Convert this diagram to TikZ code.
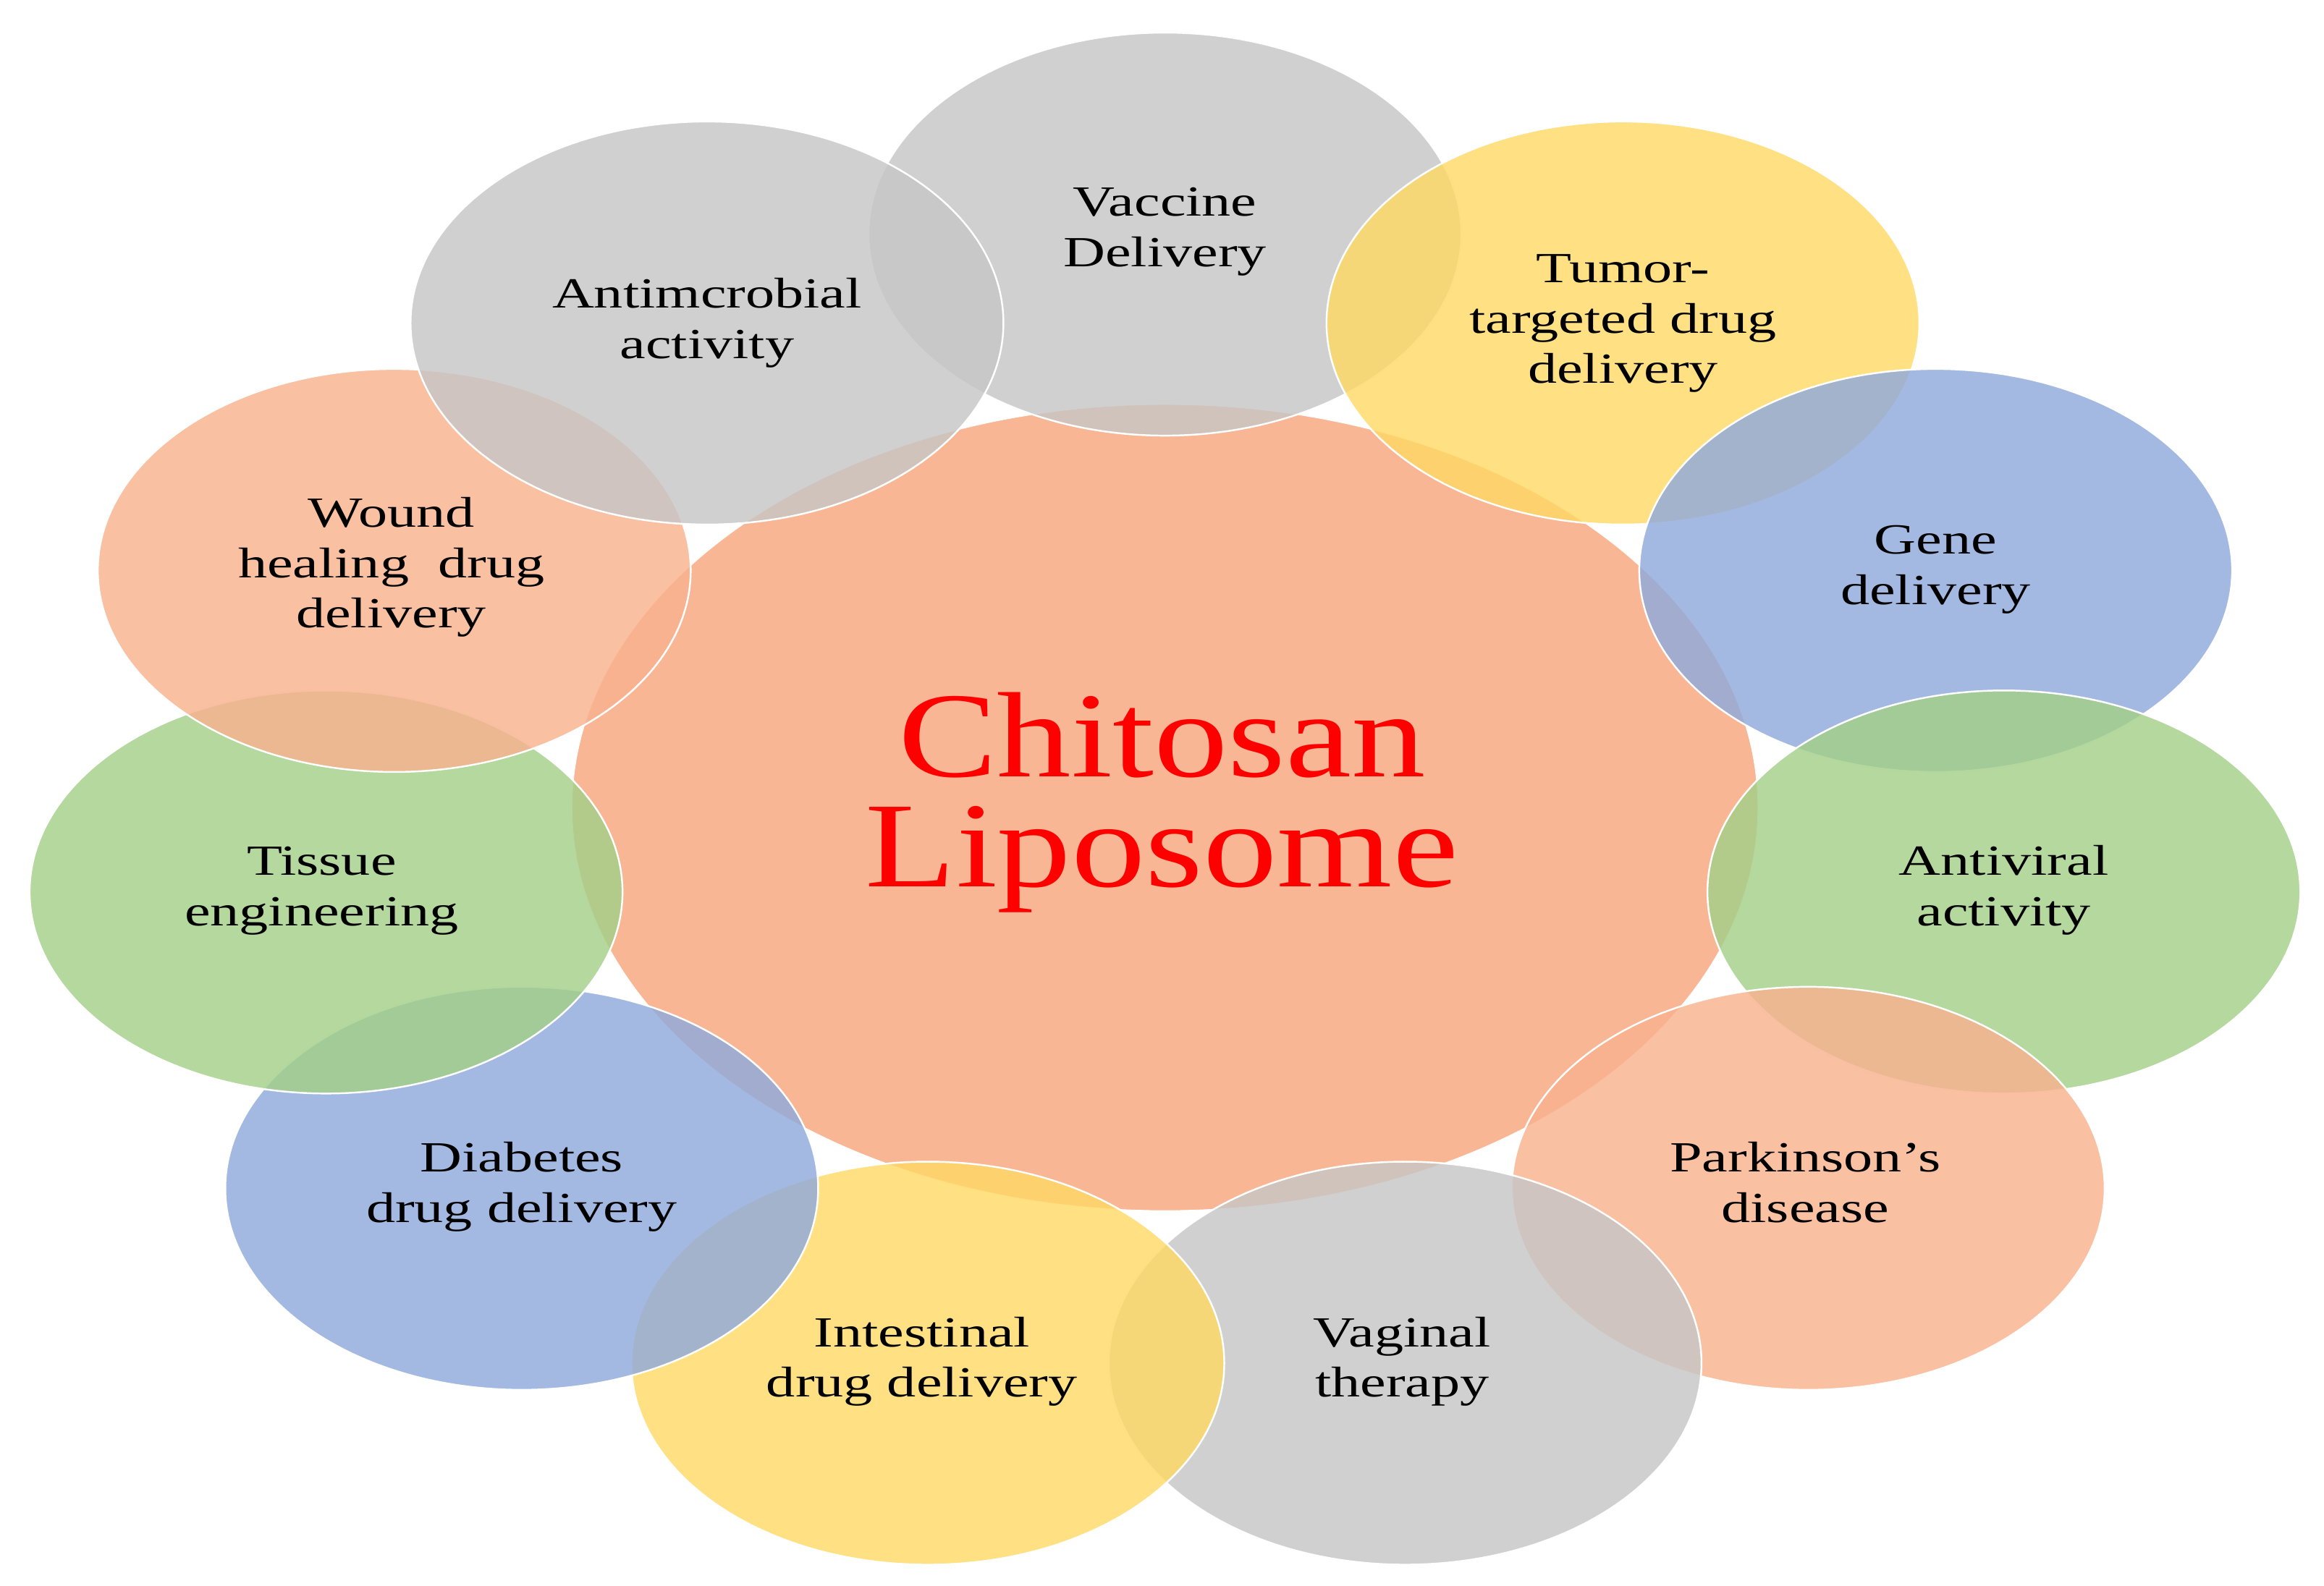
\documentclass[tikz,border=0pt]{standalone}
\usepackage{fontspec}
\setmainfont{Liberation Serif}
\newcommand{\wide}[1]{\scalebox{1.35}[1]{\begin{tabular}{@{}c@{}}#1\end{tabular}}}
\begin{document}
\begin{tikzpicture}[x=1pt,y=-1pt,
  bub/.style={draw=white,line width=1.2pt,fill opacity=0.82},
  lab/.style={font=\fontsize{29}{34}\selectfont,align=center}]
\useasboundingbox (0,0) rectangle (1568,1070);
\definecolor{cgrey}{HTML}{C6C6C6}
\definecolor{cyel}{HTML}{FFD966}
\definecolor{cblue}{HTML}{8FAADC}
\definecolor{cgreen}{HTML}{A3CF88}
\definecolor{corg}{HTML}{F9B28E}
\fill[corg!95!white,draw=white] (786,545) ellipse [x radius=400,y radius=272];
\foreach \x/\y/\c/\n in {786/158/cgrey/a,1095/218/cyel/b,1306/385/cblue/c,1352/602/cgreen/d,1220/802/corg/e,948/920/cgrey/f,626/920/cyel/g,352/802/cblue/h,220/602/cgreen/i,266/385/corg/j,477/218/cgrey/k}
  \fill[bub,fill=\c] (\x,\y) ellipse [x radius=200,y radius=136];
\node[lab] (na) at (786,156) {\wide{Vaccine\\Delivery}};
\node[lab] (nb) at (1095,218) {\wide{Tumor-\\targeted drug\\delivery}};
\node[lab] (nc) at (1306,384) {\wide{Gene\\delivery}};
\node[lab] (nd) at (1352,601) {\wide{Antiviral\\activity}};
\node[lab] (ne) at (1218,801) {\wide{Parkinson’s\\disease}};
\node[lab] (nf) at (946,919) {\wide{Vaginal\\therapy}};
\node[lab] (ng) at (622,919) {\wide{Intestinal\\drug delivery}};
\node[lab] (nh) at (352,801) {\wide{Diabetes\\drug delivery}};
\node[lab] (ni) at (217,601) {\wide{Tissue\\engineering}};
\node[lab] (nj) at (264,383) {\wide{Wound\\healing\ \ drug\\delivery}};
\node[lab] (nk) at (477,218) {\wide{Antimcrobial\\activity}};
\node[font=\fontsize{82}{82}\selectfont,text=red] (ctr) at (784,545) {\scalebox{1.22}[1]{\begin{tabular}{@{}c@{}}Chitosan\\[-8pt]Liposome\end{tabular}}};
\end{tikzpicture}
\end{document}
